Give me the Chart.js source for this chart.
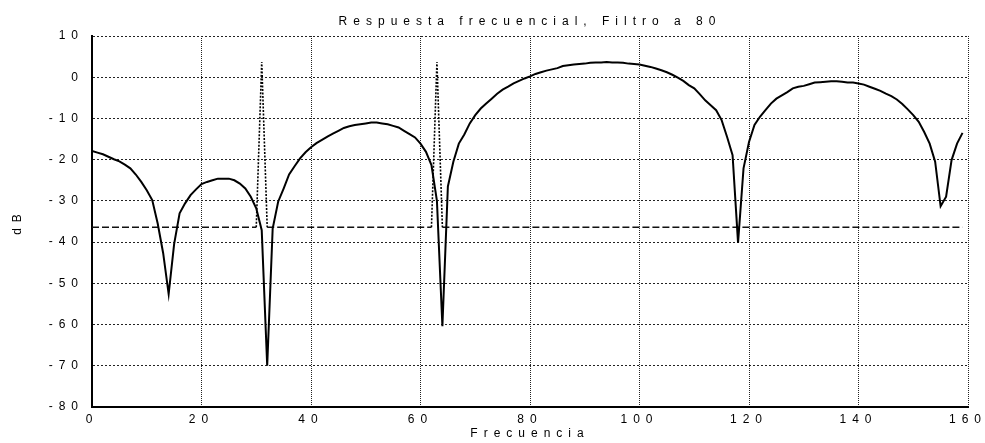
<!DOCTYPE html>
<html lang="es">
<head>
<meta charset="utf-8">
<title>Respuesta frecuencial</title>
<script src="https://cdn.jsdelivr.net/npm/chart.js@4.4.1/dist/chart.umd.min.js"></script>
<style>
  html, body { margin: 0; padding: 0; background: #fff; }
  canvas { display: block; }
</style>
</head>
<body>
<canvas id="grafica" width="985" height="443"></canvas>
<script>
// Frecuencias del barrido (una muestra por unidad)
const frecuencias = [
  0, 1, 2, 3, 4, 5, 6, 7, 8, 9, 10, 11, 12, 13, 14, 15, 16, 17, 18, 19,
  20, 21, 22, 23, 24, 25, 26, 27, 28, 29, 30, 31, 32, 33, 34, 35, 36, 37, 38, 39,
  40, 41, 42, 43, 44, 45, 46, 47, 48, 49, 50, 51, 52, 53, 54, 55, 56, 57, 58, 59,
  60, 61, 62, 63, 64, 65, 66, 67, 68, 69, 70, 71, 72, 73, 74, 75, 76, 77, 78, 79,
  80, 81, 82, 83, 84, 85, 86, 87, 88, 89, 90, 91, 92, 93, 94, 95, 96, 97, 98, 99,
  100, 101, 102, 103, 104, 105, 106, 107, 108, 109, 110, 111, 112, 113, 114, 115, 116, 117, 118, 119,
  120, 121, 122, 123, 124, 125, 126, 127, 128, 129, 130, 131, 132, 133, 134, 135, 136, 137, 138, 139,
  140, 141, 142, 143, 144, 145, 146, 147, 148, 149, 150, 151, 152, 153, 154, 155, 156, 157, 158, 159
];

// Modulo de la respuesta del filtro, en dB
const respuestaDb = [
  -17.9, -18.3, -18.7, -19.3, -19.9, -20.4, -21.2, -22.1, -23.6, -25.4,
  -27.4, -29.8, -35.5, -42.7, -52.6, -40.5, -33.0, -30.6, -28.6, -27.2,
  -25.9, -25.4, -25.0, -24.6, -24.6, -24.6, -25.0, -25.8, -27.0, -29.0,
  -31.8, -37.1, -70.0, -36.7, -30.2, -27.0, -23.6, -21.6, -19.7, -18.2,
  -17.0, -16.0, -15.2, -14.4, -13.7, -13.0, -12.3, -11.9, -11.6, -11.4,
  -11.2, -11.0, -11.0, -11.2, -11.4, -11.8, -12.2, -13.0, -13.8, -14.6,
  -16.1, -18.1, -21.3, -30.0, -60.4, -26.5, -20.5, -16.1, -13.9, -11.2,
  -9.2, -7.6, -6.4, -5.2, -4.0, -3.0, -2.3, -1.5, -0.9, -0.3,
  0.2, 0.8, 1.2, 1.6, 1.9, 2.2, 2.7, 2.9, 3.1, 3.2,
  3.3, 3.5, 3.6, 3.6, 3.7, 3.6, 3.6, 3.5, 3.3, 3.2,
  3.1, 2.8, 2.5, 2.1, 1.7, 1.2, 0.6, -0.1, -0.9, -1.9,
  -2.7, -4.1, -5.6, -6.8, -8.0, -10.4, -14.5, -18.9, -40.2, -22.1,
  -15.7, -11.6, -9.6, -8.0, -6.4, -5.2, -4.4, -3.6, -2.7, -2.3,
  -2.1, -1.7, -1.3, -1.2, -1.1, -1.0, -1.0, -1.1, -1.3, -1.3,
  -1.5, -1.8, -2.3, -2.8, -3.3, -4.0, -4.6, -5.4, -6.5, -7.8,
  -9.2, -10.8, -13.3, -16.1, -20.5, -31.3, -29.0, -20.1, -16.1, -13.5
];

// Umbral (linea discontinua), cortado donde suben los picos
const umbralFrec = [0, 30, 31, 32, 62, 63, 64, 159];
const umbralDb = [-36.4, -36.4, null, -36.4, -36.4, null, -36.4, -36.4];

// Picos de la senal a filtrar (linea punteada)
const picosFrec = [30, 31, 32, 47, 62, 63, 64];
const picosDb = [-36.4, 3.7, -36.4, null, -36.4, 3.7, -36.4];

// Limites de los ejes
const limitesX = [0, 160];
const limitesY = [-80, 10];

const puntos = (xs, ys) => xs.map((x, i) => ({ x: x, y: ys[i] }));

Chart.defaults.font.family = "'Liberation Sans', Arial, sans-serif";
Chart.defaults.font.size = 12;
Chart.defaults.color = '#000';

// texto espaciado como en las graficas de Matlab antiguas
const espaciado = {
  id: 'espaciado',
  beforeDraw(chart) {
    chart.ctx.letterSpacing = '6px';
  }
};

new Chart(document.getElementById('grafica'), {
  type: 'line',
  data: {
    datasets: [
      {
        label: 'Respuesta',
        data: puntos(frecuencias, respuestaDb),
        borderColor: '#000',
        borderWidth: 2,
        pointRadius: 0,
        tension: 0
      },
      {
        label: 'Picos',
        data: puntos(picosFrec, picosDb),
        borderColor: '#000',
        borderWidth: 1.6,
        borderDash: [2, 1.5],
        pointRadius: 0,
        spanGaps: false
      },
      {
        label: 'Umbral',
        data: puntos(umbralFrec, umbralDb),
        borderColor: '#111',
        borderWidth: 1.3,
        borderDash: [7, 3],
        pointRadius: 0,
        spanGaps: false
      }
    ]
  },
  options: {
    responsive: false,
    animation: false,
    devicePixelRatio: 1,
    layout: { padding: { left: 0, right: 17, top: 0, bottom: 0 } },
    plugins: {
      legend: { display: false },
      tooltip: { enabled: false },
      title: {
        display: true,
        fullSize: false,
        text: 'Respuesta frecuencial, Filtro a 80',
        font: { size: 12, weight: 'normal' },
        color: '#000',
        padding: { top: 14, bottom: 7.6 }
      }
    },
    scales: {
      x: {
        type: 'linear',
        min: limitesX[0],
        max: limitesX[1],
        ticks: { stepSize: 20, padding: 5, color: '#000' },
        grid: { color: '#222', lineWidth: 1, drawTicks: false },
        border: { display: true, color: '#000', width: 2, dash: [1, 1] },
        title: { display: true, text: 'Frecuencia', padding: { top: 0, bottom: 2 } },
        afterFit(escala) { escala.height = 36; }
      },
      y: {
        min: limitesY[0],
        max: limitesY[1],
        ticks: { stepSize: 10, padding: 8, color: '#000' },
        grid: { color: '#222', lineWidth: 1, drawTicks: false },
        border: { display: true, color: '#000', width: 2, dash: [2, 2] },
        title: { display: true, text: 'dB', padding: { top: 10, bottom: 0 } },
        afterFit(escala) { escala.width = 92; }
      }
    }
  },
  plugins: [espaciado]
});
</script>
</body>
</html>
